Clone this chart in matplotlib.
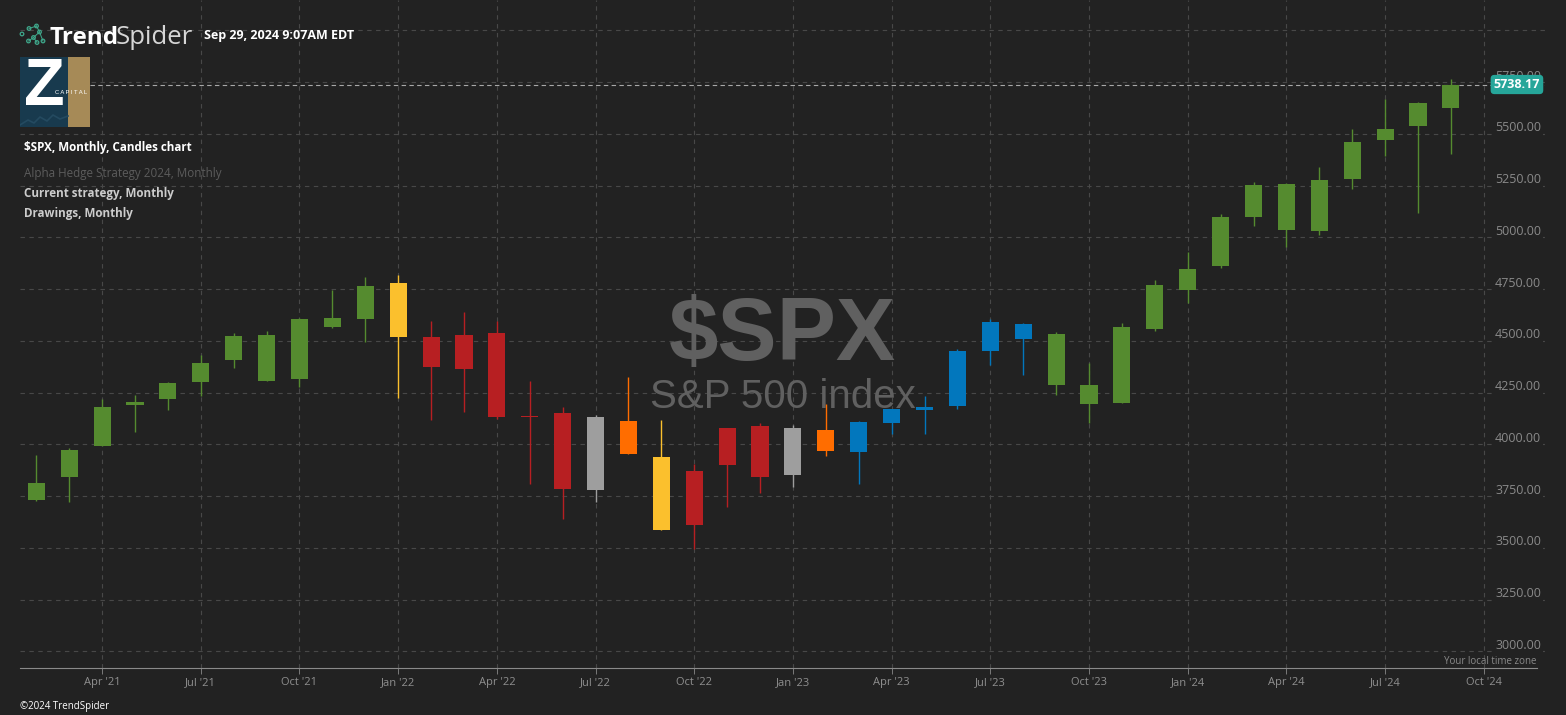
import pandas as pd
import numpy as np
import matplotlib
matplotlib.use("Agg")
import matplotlib.pyplot as plt
from matplotlib.patches import Rectangle, Circle
from matplotlib.transforms import offset_copy

# monthly $SPX candles, Feb 2021 .. Sep 2024
months = pd.date_range("2021-02-01", periods=44, freq="MS")
opens = [3731, 3842, 3993, 4192, 4217, 4301, 4407, 4529, 4317, 4611, 4603,
         4778, 4520, 4363, 4540, 4131, 4150, 3781, 4112, 3937, 3610, 3902, 4087,
         3853, 4070, 3963, 4102, 4167, 4183, 4451, 4579, 4531, 4285, 4201, 4559,
         4745, 4861, 5099, 5258, 5029, 5283, 5471, 5538, 5624]
highs = [3950, 3984, 4219, 4238, 4302, 4430, 4537, 4546, 4608, 4744, 4809,
         4819, 4595, 4637, 4594, 4308, 4178, 4140, 4325, 4119, 3905, 4080, 4101,
         4094, 4195, 4111, 4170, 4231, 4459, 4607, 4585, 4541, 4394, 4588, 4793,
         4931, 5111, 5265, 5264, 5342, 5524, 5670, 5652, 5767]
lows = [3726, 3723, 3993, 4057, 4164, 4233, 4368, 4306, 4279, 4560, 4495,
        4223, 4115, 4158, 4124, 3810, 3637, 3722, 3955, 3584, 3492, 3698, 3765,
        3794, 3943, 3809, 4049, 4048, 4172, 4385, 4335, 4239, 4104, 4198, 4547,
        4682, 4853, 5057, 4954, 5011, 5234, 5391, 5119, 5403]
closes = [3811, 3973, 4181, 4204, 4298, 4395, 4523, 4308, 4605, 4567, 4766,
          4516, 4374, 4530, 4132, 4132, 3785, 4130, 3955, 3586, 3872, 4080, 3840,
          4077, 3970, 4109, 4170, 4180, 4450, 4589, 4508, 4288, 4194, 4568, 4770,
          4846, 5096, 5254, 5036, 5278, 5461, 5522, 5648, 5738.17]
# strategy state per candle
states = (["up"] * 11 + ["caution"] + ["down"] * 5 +
          ["flat", "hedge", "caution", "down", "down", "down", "flat", "hedge"] +
          ["recover"] * 6 + ["up"] * 13)
last_price = 5738.17
price_levels = np.arange(3000, 6001, 250)

state_colors = {"up": "#558b2f", "down": "#b71f22", "caution": "#fbc02d",
                "flat": "#9e9e9e", "hedge": "#ff6d00", "recover": "#0277bd"}

W, H = 1566, 715
BG = "#222222"
GRID = "#484848"
UI = ["Open Sans", "DejaVu Sans"]


def fx(px):
    return px / W


def fy(py):
    return 1 - py / H


fig = plt.figure(figsize=(W / 100, H / 100), dpi=100, facecolor=BG)
ax = fig.add_axes([fx(20), 47 / H, (1545 - 20) / W, 668 / H], facecolor=BG)

idx = np.arange(len(months))
cols = [state_colors[s] for s in states]
o = np.array(opens, float)
c = np.array(closes, float)
bottoms = np.minimum(o, c)
heights = np.maximum(np.abs(c - o), 6)

ax.vlines(idx, lows, highs, colors=cols, lw=1.0, zorder=3)
ax.bar(idx, heights, bottom=bottoms, width=0.52, color=cols, lw=0, zorder=4)

ax.set_xlim(-0.495, 45.86)
ax.set_ylim(2919.3, 6146.4)

# quarter ticks
tick_dates = pd.date_range("2021-04-01", "2024-10-01", freq="QS-JAN")
tick_pos = [(d.year - 2021) * 12 + d.month - 2 for d in tick_dates]
tick_lab = [d.strftime("%b '%y") for d in tick_dates]
ax.set_xticks(tick_pos)
ax.set_xticklabels(tick_lab, fontsize=8, color="#8f8f8f", family=UI)
ax.tick_params(axis="x", length=4.5, width=0.7, color="#7a7a7a", pad=2)
ax.set_yticks(price_levels)
ax.tick_params(axis="y", length=0, labelleft=False)
ax.grid(True, color=GRID, lw=0.8, linestyle=(0, (4, 4)))
ax.set_axisbelow(True)
for s in ["top", "left", "right"]:
    ax.spines[s].set_visible(False)
ax.spines["bottom"].set_color("#8a8a8a")
ax.spines["bottom"].set_bounds(-0.495, 45.61)

# price labels sitting just above their grid lines
ytrans = offset_copy(ax.get_yaxis_transform(), fig=fig, y=6, units="dots")
for lv in price_levels[:-1]:
    ax.text(0.9974, lv, "%.2f" % lv, transform=ytrans, ha="right", va="center",
            fontsize=9, color="#8a8a8a", family=UI, zorder=5,
            bbox=dict(boxstyle="square,pad=0.15", fc=BG, ec="none"))

# last price line + tag
ax.axhline(last_price, color="#a8a8a8", lw=0.8, linestyle=(0, (4, 3)), zorder=2)
ax.text(0.9816, last_price, "%.2f" % last_price, transform=ax.get_yaxis_transform(),
        ha="center", va="center", fontsize=9, color="white", weight="bold",
        family=UI, zorder=6,
        bbox=dict(boxstyle="round,pad=0.25,rounding_size=0.3", fc="#26a69a", ec="none"))

# watermark
ax.text(fx(782), fy(360), "$SPX", transform=fig.transFigure, ha="center",
        va="baseline", fontsize=64, weight="bold", family="Liberation Sans",
        color="#606060", zorder=1)
ax.text(fx(783), fy(408), "S&P 500 index", transform=fig.transFigure, ha="center",
        va="baseline", fontsize=29, family="Liberation Sans", color="#606060",
        zorder=1)

# header
fig.text(fx(50), fy(43.5), "Trend", fontsize=17.5, weight="bold", color="white",
         family=UI, va="baseline")
fig.text(fx(116), fy(43.5), "Spider", fontsize=18.5, weight="normal",
         color="#d6d6d6", family=UI, va="baseline")
fig.text(fx(204), fy(36), "Sep 29, 2024 9:07AM EDT", fontsize=9, weight="bold",
         color="white", family=UI, va="center")

# little spider icon
ic = fig.add_axes([fx(17), fy(48), 32 / W, 26 / H])
ic.set_xlim(17, 49)
ic.set_ylim(48, 22)
ic.axis("off")
nodes = [(22, 34), (29, 28.5), (36.5, 26), (39.5, 32), (33.5, 37.5), (37, 42.5),
         (43, 41), (28.5, 41)]
for a, b in [(1, 2), (2, 3), (3, 4), (4, 5), (4, 7), (3, 6)]:
    ic.plot([nodes[a][0], nodes[b][0]], [nodes[a][1], nodes[b][1]],
            color="#3fa98c", lw=0.7)
for (px, py) in nodes:
    ic.add_patch(Circle((px, py), 1.8, fc=BG, ec="#3fa98c", lw=0.9))

# Z capital logo
lg = fig.add_axes([fx(20), fy(127), 70 / W, 70 / H])
lg.set_xlim(0, 70)
lg.set_ylim(70, 0)
lg.axis("off")
lg.add_patch(Rectangle((0, 0), 48, 70, fc="#183a4e", ec="none"))
lg.add_patch(Rectangle((48, 0), 22, 70, fc="#a68a57", ec="none"))
lg.plot([0, 8, 14, 20, 27, 33, 40, 48], [68, 63, 66, 60, 64, 58, 62, 59],
        color="#244a60", lw=1.2)
lg.text(24.5, 31, "Z", ha="center", va="center", fontsize=48, weight="bold",
        color="white", family="Liberation Sans")
lg.text(51, 35, "C A P I T A L", ha="center", va="center", fontsize=4.2,
        color="white", family="Liberation Sans")

# legend lines
fig.text(fx(24), fy(148), "$SPX, Monthly, Candles chart", fontsize=8.4, weight="bold",
         color="white", family=UI, va="center")
fig.text(fx(24), fy(174), "Alpha Hedge Strategy 2024, Monthly", fontsize=8.4,
         color="#5c5c5c", family=UI, va="center")
fig.text(fx(24), fy(194), "Current strategy, Monthly", fontsize=8.4, weight="bold",
         color="#cccccc", family=UI, va="center")
fig.text(fx(24), fy(214), "Drawings, Monthly", fontsize=8.4, weight="bold",
         color="#cccccc", family=UI, va="center")

fig.text(fx(1537), fy(661), "Your local time zone", fontsize=7, color="#8a8a8a",
         family=UI, ha="right", va="center")
fig.text(fx(20), fy(706), "\u00a92024 TrendSpider", fontsize=7, color="white",
         family=UI, va="center")

fig.savefig("out.png", dpi=100, facecolor=BG)
